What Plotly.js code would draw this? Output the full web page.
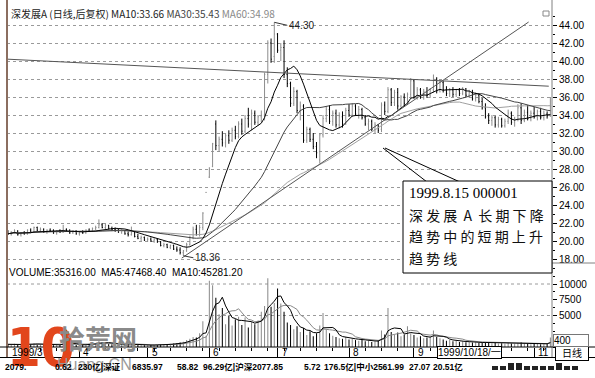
<!DOCTYPE html>
<html><head><meta charset="utf-8">
<script src="https://cdn.plot.ly/plotly-3.0.1.min.js"></script>
<style>html,body{margin:0;padding:0;background:#fff;}#chart{width:595px;height:378px;}</style>
</head><body><div id="chart"></div>
<script>
// ---- data ----
const openP = [
21.0,20.8,20.9,21.1,20.7,20.9,20.8,21.2,21.0,21.5,
21.2,21.3,21.0,21.2,21.1,20.9,21.1,21.0,21.3,21.1,
20.9,21.1,20.8,21.0,20.9,21.2,21.1,21.4,21.5,21.8,
21.5,21.7,21.4,21.3,21.2,21.0,21.1,20.8,20.7,20.9,
20.5,20.3,20.4,20.1,20.2,20.0,20.2,19.9,19.5,19.6,
19.3,19.5,19.1,19.0,18.7,18.9,19.6,20.4,21.3,21.0,
21.5,25.4,27.1,28.3,33.0,30.6,31.3,30.9,31.7,31.2,
32.3,31.6,33.0,32.2,33.6,33.0,34.2,33.2,33.8,34.0,
38.5,42.0,40.5,43.0,41.2,41.5,38.5,37.5,35.3,36.6,
34.5,35.0,31.2,32.4,31.3,30.5,29.0,31.8,33.6,34.6,
33.3,34.2,32.9,33.8,33.0,34.5,34.0,35.0,34.1,34.6,
33.7,33.0,33.3,32.4,32.9,32.4,35.1,34.4,36.8,35.4,
36.5,35.0,36.0,35.3,36.3,37.8,36.0,36.8,36.0,36.6,
36.2,36.8,38.0,36.7,37.6,36.8,36.4,36.8,36.3,36.7,
36.4,36.9,36.2,36.5,35.8,36.2,35.5,34.8,33.8,33.4,
33.7,32.9,33.5,32.8,33.3,34.2,33.2,33.5,34.8,33.4,
34.3,33.6,34.2,33.8,34.4,33.7,34.1,33.9];
const highP = [
21.2,21.1,21.3,21.2,21.0,21.1,21.3,21.4,21.6,21.6,
21.5,21.4,21.3,21.4,21.3,21.2,21.3,21.8,21.4,21.3,
21.2,21.2,21.1,21.2,21.3,21.4,21.5,21.7,22.4,22.0,
21.9,21.8,21.6,21.5,21.4,21.3,21.2,21.1,21.6,21.0,
20.8,20.6,20.5,20.4,20.4,20.3,20.3,20.0,19.8,19.7,
19.6,19.6,19.4,19.3,19.0,19.8,20.6,21.6,21.8,21.8,
23.2,25.4,28.2,30.9,33.4,31.6,32.2,32.0,32.3,32.6,
32.8,33.3,33.6,34.0,34.8,34.6,34.5,34.0,34.5,38.7,
42.3,42.5,44.3,43.1,42.0,42.3,39.3,37.7,37.1,36.8,
35.5,35.2,32.7,32.6,32.0,31.0,32.0,34.0,35.0,35.1,
34.5,34.6,34.3,34.4,34.8,35.2,35.3,35.2,35.0,34.8,
34.0,33.6,33.5,33.2,33.0,35.4,35.5,37.1,37.0,36.8,
37.0,36.2,36.4,36.5,38.1,38.0,37.1,37.0,36.9,37.1,
37.0,38.5,38.2,37.9,37.8,37.2,37.0,37.1,36.9,37.0,
37.1,37.0,36.8,36.8,36.5,36.4,35.9,35.3,34.2,34.0,
33.9,33.8,33.7,33.6,34.6,34.4,33.8,35.2,35.3,34.6,
35.1,34.5,34.9,34.6,34.8,34.5,34.4,36.0];
const lowP = [
20.7,20.6,20.8,20.6,20.5,20.7,20.7,20.9,20.9,21.1,
21.0,20.9,20.8,21.0,20.8,20.7,20.9,20.9,21.0,20.8,
20.8,20.7,20.6,20.8,20.8,21.0,21.0,21.2,21.4,21.4,
21.3,21.3,21.1,21.0,20.9,20.8,20.7,20.5,20.6,20.4,
20.2,20.0,20.0,19.9,19.9,19.8,19.8,19.4,19.3,19.2,
19.1,19.0,18.8,18.5,18.36,18.8,19.5,20.2,20.6,20.5,
21.2,25.4,27.0,28.2,30.1,29.9,30.5,30.4,30.8,31.0,
31.3,31.4,31.8,32.0,32.6,32.3,32.9,32.8,33.2,33.4,
37.5,39.8,39.8,40.9,40.0,38.1,37.1,34.9,35.0,34.2,
33.4,30.9,30.9,31.0,30.2,29.2,28.6,31.5,33.2,33.0,
32.8,32.6,32.5,32.6,32.9,33.8,33.8,33.9,33.6,33.5,
32.8,32.3,32.2,32.0,32.0,32.1,34.0,34.2,35.0,35.0,
34.6,34.8,35.0,35.1,36.0,35.8,35.7,35.8,35.7,35.9,
35.9,36.5,36.4,36.5,36.5,36.1,36.0,36.0,36.0,36.1,
36.2,36.0,35.9,35.6,35.5,35.3,34.6,33.6,33.0,32.8,
32.6,32.6,32.6,32.6,33.0,32.9,32.7,33.3,33.0,33.2,
33.4,33.3,33.6,33.4,33.5,33.4,33.6,33.8];
const closeP = [
20.8,20.9,21.1,20.7,20.9,20.8,21.2,21.0,21.5,21.2,
21.3,21.0,21.2,21.1,20.9,21.1,21.0,21.3,21.1,20.9,
21.1,20.8,21.0,20.9,21.2,21.1,21.4,21.5,21.8,21.5,
21.7,21.4,21.3,21.2,21.0,21.1,20.8,20.7,20.9,20.5,
20.3,20.4,20.1,20.2,20.0,20.2,19.9,19.5,19.6,19.3,
19.5,19.1,19.0,18.7,18.9,19.6,20.4,21.3,21.0,21.5,
23.1,25.4,28.0,30.8,30.6,31.3,30.9,31.7,31.2,32.3,
31.6,33.0,32.2,33.6,33.0,34.2,33.2,33.8,34.0,38.5,
42.0,40.2,43.0,41.2,41.5,38.5,37.5,35.3,36.6,34.5,
35.0,31.2,32.4,31.3,30.5,29.8,31.8,33.6,34.6,33.3,
34.2,32.9,33.8,33.0,34.5,34.0,35.0,34.1,34.6,33.7,
33.0,33.3,32.4,32.9,32.3,35.1,34.4,36.8,35.4,36.5,
35.0,36.0,35.3,36.3,37.8,36.0,36.8,36.0,36.6,36.2,
36.8,38.0,36.7,37.6,36.8,36.4,36.8,36.3,36.7,36.4,
36.9,36.2,36.5,35.8,36.2,35.5,34.8,33.8,33.4,33.7,
32.9,33.5,32.8,33.3,34.2,33.2,33.5,34.8,33.4,34.3,
33.6,34.2,33.8,34.4,33.7,34.1,33.9,35.0];
const volume = [
420,380,500,350,300,450,520,400,600,480,
380,350,420,300,280,350,400,900,600,450,
380,320,300,350,420,500,550,600,1000,700,
650,500,420,380,350,300,280,320,650,420,
350,300,280,260,300,350,320,380,420,450,
500,550,600,700,850,1100,1300,1600,1500,2200,
4100,1800,10500,9800,7800,5200,6200,3600,5000,3400,
4400,4800,3500,4700,3100,4000,3600,4200,5600,6500,
10900,6400,7000,9300,6900,5600,3900,3500,2800,3300,
2400,3000,1900,2500,1700,2200,3400,5400,2700,2200,
1800,1600,1400,1300,1600,1200,1300,1100,1000,1200,
900,1000,800,900,1100,2600,2000,6200,2400,1900,
2300,1700,2000,3300,2200,1900,1500,1700,1400,1500,
1700,2600,1600,1400,1200,1000,1100,900,1000,800,
900,750,800,700,750,650,700,800,650,600,
700,550,600,500,650,550,500,600,750,550,
500,450,550,500,450,500,550,1500];
const monthTickIdx  = [0, 22, 43, 62, 83, 105, 125, 162];
const monthTickText = ['1999/3', '4', '5', '6', '7', '8', '9', '11'];
const priceTicks = [18,20,22,24,26,28,30,32,34,36,38,40,42,44];
const volTicks = [5000, 7500, 10000];
const volGrid = [5000, 10000];
// hand-drawn trend lines (bar index, price)
const trendDownX = [0, 166.5], trendDownY = [40.2, 37.2];
const trendUpX   = [53.5, 160.3], trendUpY   = [18.1, 44.33];
const noteLines = ['1999.8.15 000001', '深 发 展 &#160;A&#160; 长 期 下 降', '趋 势 中 的 短 期 上 升', '趋 势 线'];

// ---- derived ----
const idx = closeP.map((_, i) => i);
function movingAvg(arr, n) {
  return arr.map((_, i) => {
    const s = Math.max(0, i - n + 1); let sum = 0;
    for (let k = s; k <= i; k++) sum += arr[k];
    return sum / (i - s + 1);
  });
}
const ma10 = movingAvg(closeP, 10), ma30 = movingAvg(closeP, 30), ma60 = movingAvg(closeP, 60);
const vma5 = movingAvg(volume, 5), vma10 = movingAvg(volume, 10);
const volColors = closeP.map((c, i) => c >= openP[i] ? '#8c8c8c' : '#000');
const hiVal = Math.max(...highP), hiIdx = highP.indexOf(hiVal);
const loVal = Math.min(...lowP), loIdx = lowP.indexOf(loVal);

// ---- pixel helpers for layout decorations ----
const H = 378, PL = 7, PR = 552;
const px2x = p => (p - PL) / (PR - PL);
const px2y = p => 1 - p / H;
const xRange = [-0.3, 167.5];

const data = [
  {type:'ohlc', x:idx, open:openP, high:highP, low:lowP, close:closeP, xaxis:'x', yaxis:'y', tickwidth:0.22,
   increasing:{line:{color:'#8c8c8c', width:1}}, decreasing:{line:{color:'#000', width:1}}, hoverinfo:'skip'},
  {type:'scatter', mode:'lines', x:idx, y:ma60, line:{color:'#a0a0a0', width:1}, xaxis:'x', yaxis:'y'},
  {type:'scatter', mode:'lines', x:idx, y:ma30, line:{color:'#444', width:1}, xaxis:'x', yaxis:'y'},
  {type:'scatter', mode:'lines', x:idx, y:ma10, line:{color:'#000', width:1}, xaxis:'x', yaxis:'y'},
  {type:'scatter', mode:'lines', x:trendDownX, y:trendDownY, line:{color:'#555', width:1}, xaxis:'x', yaxis:'y'},
  {type:'scatter', mode:'lines', x:trendUpX, y:trendUpY, line:{color:'#555', width:1}, xaxis:'x', yaxis:'y'},
  {type:'bar', x:idx, y:volume, marker:{color:volColors, line:{width:0}}, width:0.32, xaxis:'x2', yaxis:'y2'},
  {type:'scatter', mode:'lines', x:idx, y:vma10, line:{color:'#888', width:1}, xaxis:'x2', yaxis:'y2'},
  {type:'scatter', mode:'lines', x:idx, y:vma5, line:{color:'#000', width:1}, xaxis:'x2', yaxis:'y2'}
];

const annotations = [];
const txt = (x, y, text, opt) => annotations.push(Object.assign({xref:'paper', yref:'paper', x:px2x(x), y:px2y(y), text:text, showarrow:false, xanchor:'left', yanchor:'middle', font:{size:10, color:'#000'}}, opt || {}));

// watermark first (drawn beneath other texts)
txt(5, 347, '<b>10</b>', {font:{size:54, color:'#e2461c', family:'Liberation Sans Narrow, DejaVu Sans Condensed, Liberation Sans, sans-serif'}});
txt(57, 337, '<b>拾荒网</b>', {font:{size:26, color:'#8a8a8a', family:'Noto Sans CJK SC, sans-serif'}});
txt(55, 364, 'Huang.CN', {font:{size:16, color:'#9a9a9a', family:'Liberation Sans, sans-serif'}});

txt(9, 13, '深发展A (日线,后复权) MA10:33.66 <span style="color:#444">MA30:35.43</span> <span style="color:#8a8a8a">MA60:34.98</span>', {font:{size:10, color:'#222', family:'Noto Sans CJK SC, Liberation Sans, sans-serif'}});
txt(7, 272, 'VOLUME:35316.00  MA5:47468.40  MA10:45281.20', {font:{size:10, color:'#000', family:'Liberation Sans, Arial, sans-serif'}});

annotations.push({xref:'x', yref:'y', x:hiIdx, y:hiVal, text:hiVal.toFixed(2), showarrow:true, arrowhead:0, arrowwidth:1, arrowcolor:'#333', ax:13, ay:3, xanchor:'left', font:{size:10, color:'#222'}, standoff:0});
annotations.push({xref:'x', yref:'y', x:loIdx, y:loVal, text:loVal.toFixed(2), showarrow:true, arrowhead:0, arrowwidth:1, arrowcolor:'#333', ax:10, ay:2, xanchor:'left', font:{size:10, color:'#222'}, standoff:0});

// note box text
const noteY = [193, 215, 236, 258];
noteLines.forEach((t, k) => txt(407, noteY[k], t, {font: k === 0 ? {size:15, color:'#000', family:'Liberation Serif, Times New Roman, serif'} : {size:14, color:'#111', family:'Noto Sans CJK SC, sans-serif'}}));

// date row
monthTickIdx.forEach((v, k) => annotations.push({xref:'x2', yref:'paper', x:v, y:px2y(352), text:monthTickText[k], showarrow:false, xanchor:'left', yanchor:'middle', xshift:2, font:{size:10, color:'#000'}}));
txt(437, 352, '1999/10/18/一', {bgcolor:'#fff', bordercolor:'#000', borderwidth:1, borderpad:0, font:{size:10, color:'#000', family:'Liberation Sans, Noto Sans CJK SC, sans-serif'}});
txt(555, 352, '日线', {bgcolor:'#fff', bordercolor:'#000', borderwidth:1, borderpad:0, width:32, align:'center', font:{size:10, color:'#000', family:'Noto Sans CJK SC, sans-serif'}});
txt(553, 340, '400', {bgcolor:'#fff', bordercolor:'#777', borderwidth:1, borderpad:0, width:34, align:'left', font:{size:10, color:'#000'}});

// status bar
const statusParts = [[3,'2079.'],[53,'0.62'],[76,'230亿|深证'],[130,'6835.97'],[175,'58.82'],[201,'96.29亿|沪深2077.85'],[302,'5.72'],[322,'176.5亿|中小2561.99'],[407,'27.07'],[431,'20.51亿']];
statusParts.forEach(p => txt(p[0], 367, '<b>' + p[1] + '</b>', {font:{size:8.5, color:'#000', family:'Liberation Sans, Noto Sans CJK SC, sans-serif'}}));

const shapes = [
  {type:'line', xref:'paper', yref:'paper', x0:px2x(7), x1:px2x(7), y0:px2y(0), y1:px2y(358), line:{color:'#8b6e60', width:2}},
  {type:'line', xref:'paper', yref:'paper', x0:1, x1:1, y0:px2y(0), y1:px2y(357), line:{color:'#808080', width:1}},
  {type:'line', xref:'paper', yref:'paper', x0:1, x1:px2x(595), y0:px2y(263), y1:px2y(263), line:{color:'#808080', width:1}},
  {type:'line', xref:'paper', yref:'paper', x0:px2x(0), x1:px2x(595), y0:px2y(347), y1:px2y(347), line:{color:'#000', width:1}},
  {type:'line', xref:'paper', yref:'paper', x0:px2x(0), x1:px2x(595), y0:px2y(357.5), y1:px2y(357.5), line:{color:'#000', width:1}},
  {type:'rect', xref:'paper', yref:'paper', x0:px2x(543), x1:px2x(549), y0:px2y(11), y1:px2y(16), line:{color:'#888', width:1}},
  {type:'line', xref:'paper', yref:'paper', x0:px2x(383), x1:px2x(427), y0:px2y(148), y1:px2y(182), line:{color:'#000', width:1}},
  {type:'line', xref:'paper', yref:'paper', x0:px2x(385), x1:px2x(460), y0:px2y(148), y1:px2y(182), line:{color:'#000', width:1}},
  {type:'rect', xref:'paper', yref:'paper', x0:px2x(403), x1:px2x(552), y0:px2y(181), y1:px2y(273), fillcolor:'#fff', line:{color:'#000', width:1}, layer:'above'}
];
volGrid.forEach(v => shapes.push({type:'line', xref:'paper', yref:'y2', x0:0, x1:1, y0:v, y1:v, line:{color:'#9a9a9a', width:1, dash:'dot'}, layer:'below'}));
// status icons
[[492,4],[500,4],[508,7],[516,7],[524,4],[532,4],[540,4],[548,4],[556,7],[564,4],[572,4]].forEach(b => shapes.push({type:'rect', xref:'paper', yref:'paper', x0:px2x(b[0]), x1:px2x(b[0]+6), y0:px2y(370), y1:px2y(370-b[1]), fillcolor:'#222', line:{width:0}}));

const layout = {
  width:595, height:378, margin:{l:7, r:43, t:0, b:0}, paper_bgcolor:'#fff', plot_bgcolor:'#fff',
  showlegend:false, hovermode:false,
  font:{family:'Liberation Sans, Arial, sans-serif', size:10, color:'#000'},
  xaxis:{domain:[0,1], range:xRange, anchor:'y', showticklabels:false, showgrid:false, zeroline:false, showline:false, ticks:'', rangeslider:{visible:false}},
  xaxis2:{domain:[0,1], range:xRange, anchor:'y2', showticklabels:false, showgrid:false, zeroline:false, showline:false,
          ticks:'outside', tickvals:monthTickIdx, ticklen:10, tickcolor:'#000', tickwidth:1,
          minor:{ticks:'outside', ticklen:3, tick0:0, dtick:5, tickcolor:'#000', showgrid:false}},
  yaxis:{domain:[px2y(263), px2y(10)], range:[17.556, 45.667], side:'right', tickvals:priceTicks, tickformat:'.2f',
         ticks:'outside', ticklen:4, tickcolor:'#000', showgrid:true, gridcolor:'#9a9a9a', griddash:'dot', gridwidth:1,
         zeroline:false, showline:false, tickfont:{size:10, color:'#000'},
         minor:{ticks:'outside', ticklen:2, dtick:1, tickcolor:'#000', showgrid:false}},
  yaxis2:{domain:[px2y(347), px2y(264)], range:[0, 13175], side:'right', tickvals:volTicks, ticktext:volTicks.map(String),
          ticks:'outside', ticklen:4, tickcolor:'#000', showgrid:false, zeroline:false, showline:false, tickfont:{size:10, color:'#000'},
          minor:{ticks:'outside', ticklen:2, dtick:1250, tickcolor:'#000', showgrid:false}},
  annotations:annotations, shapes:shapes
};
Plotly.newPlot('chart', data, layout, {staticPlot:true, displayModeBar:false});
</script></body></html>
